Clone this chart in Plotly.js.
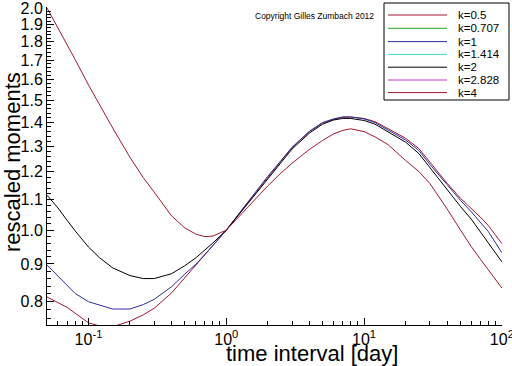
<!DOCTYPE html>
<html><head><meta charset="utf-8">
<script src="https://cdn.plot.ly/plotly-3.0.1.min.js"></script>
<style>html,body{margin:0;padding:0;background:#fff}#chart{width:512px;height:366px}</style>
</head><body><div id="chart"></div>
<script>
// time interval [day]
const xDays = [0.05,0.06,0.07,0.08,0.1,0.12,0.15,0.2,0.25,0.3,0.4,0.5,0.6,0.7,0.8,1,
  1.25,1.5,2,2.5,3,4,5,6,7,8,10,12,15,20,25,30,40,50,60,70,80,100];
// rescaled moments per k
const k05 = [0.812,0.798,0.786,0.772,0.749,0.742,0.740,0.753,0.768,0.784,0.822,0.862,0.896,0.925,0.953,1.000,
  1.055,1.101,1.181,1.241,1.293,1.359,1.397,1.413,1.422,1.423,1.417,1.403,1.372,1.332,1.290,1.236,1.158,1.105,1.071,1.041,1.014,0.959];
const k1 = [0.897,0.866,0.840,0.821,0.800,0.791,0.782,0.782,0.793,0.806,0.838,0.872,0.899,0.927,0.954,1.000,
  1.056,1.103,1.183,1.243,1.295,1.361,1.399,1.415,1.424,1.424,1.415,1.399,1.365,1.325,1.282,1.228,1.153,1.098,1.059,1.025,0.995,0.932];
const k2 = [1.115,1.072,1.031,0.998,0.949,0.918,0.889,0.868,0.860,0.860,0.873,0.895,0.917,0.940,0.961,1.000,
  1.053,1.098,1.177,1.236,1.288,1.353,1.392,1.410,1.417,1.417,1.408,1.392,1.357,1.316,1.270,1.215,1.136,1.077,1.035,0.994,0.963,0.906];
const k4 = [2.000,1.880,1.780,1.703,1.573,1.478,1.375,1.255,1.178,1.126,1.046,1.007,0.988,0.980,0.982,1.000,
  1.046,1.086,1.148,1.196,1.232,1.286,1.323,1.350,1.365,1.372,1.360,1.338,1.305,1.243,1.201,1.157,1.069,1.001,0.950,0.913,0.883,0.835];

const legendNames = ['k=0.5','k=0.707','k=1','k=1.414','k=2','k=2.828','k=4'];
const legendColors = ['#a3182f','#22a822','#2e2ea0','#33dada','#000000','#c833c8','#a3182f'];

const xTickVals = [0.1,1,10,100];
const xTickText = ['10<sup>-1</sup>','10<sup>0</sup>','10<sup>1</sup>','10<sup>2</sup>'];
const yTickVals = [0.8,0.9,1.0,1.1,1.2,1.3,1.4,1.5,1.6,1.7,1.8,1.9,2.0];
const yTickText = ['0.8','0.9','1.0','1.1','1.2','1.3','1.4','1.5','1.6','1.7','1.8','1.9','2.0'];

const xMinor = [];
[0.01,0.1,1,10].forEach(d => { for (let m = 2; m <= 9; m++) xMinor.push(+(d*m).toFixed(4)); });
const yMinor = [];
for (let v = 76; v <= 200; v += 2) { if (v % 10 !== 0) yMinor.push(v/100); }

const series = [
  {name:'k=0.5', y:k05, color:legendColors[0]},
  {name:'k=1', y:k1, color:legendColors[2]},
  {name:'k=2', y:k2, color:legendColors[4]},
  {name:'k=4', y:k4, color:legendColors[6]}
];
const traces = series.map(s => ({
  type:'scatter', mode:'lines', x:xDays, y:s.y, name:s.name,
  line:{color:s.color, width:1}, showlegend:false, hoverinfo:'skip'
}));

// plot area in pixels
const L = 47, R = 502, T = 7, B = 325, W = 512, H = 366;
const px = x => (x - L) / (R - L);
const py = y => (B - y) / (B - T);

const shapes = [{type:'rect', xref:'paper', yref:'paper', x0:px(384), x1:px(509), y0:py(100), y1:py(3),
  line:{color:'#000', width:1}, fillcolor:'#fff', layer:'above'}];
const annotations = [];
const rowY = [15,28.3,41.6,54.4,67.2,80,92.6];
legendNames.forEach((n,i) => {
  shapes.push({type:'line', xref:'paper', yref:'paper', x0:px(388), x1:px(447), y0:py(rowY[i]), y1:py(rowY[i]),
    line:{color:legendColors[i], width:1}, layer:'above'});
  annotations.push({xref:'paper', yref:'paper', x:px(456), y:py(rowY[i]), xanchor:'left', yanchor:'middle',
    text:n, showarrow:false, font:{size:11.5, color:'#000'}});
});
annotations.push({xref:'paper', yref:'paper', x:px(314), y:py(16), xanchor:'center', yanchor:'middle',
  text:'Copyright Gilles Zumbach 2012', showarrow:false, font:{size:8.5, color:'#000'}});
annotations.push({xref:'paper', yref:'paper', x:px(312), y:0, yshift:-14, xanchor:'center', yanchor:'top',
  text:'time interval [day]', showarrow:false, font:{size:22, color:'#000'}});
annotations.push({xref:'paper', yref:'paper', x:px(12), y:py(162), xanchor:'center', yanchor:'middle',
  text:'rescaled moments', textangle:-90, showarrow:false, font:{size:22, color:'#000'}});

const axisCommon = {type:'log', showgrid:false, zeroline:false, showline:true, linecolor:'#000', linewidth:1,
  ticks:'inside', ticklen:7, tickcolor:'#000', tickwidth:1, tickmode:'array', mirror:false,
  ticklabeloverflow:'allow', tickfont:{size:16, color:'#000'}};

const layout = {
  width:W, height:H, margin:{l:L, r:W-R, t:T, b:H-B, pad:0},
  paper_bgcolor:'#fff', plot_bgcolor:'#fff',
  font:{family:'Liberation Sans, Arial, sans-serif', color:'#000'},
  showlegend:false,
  xaxis:Object.assign({}, axisCommon, {range:[Math.log10(0.05), 2.001], tickvals:xTickVals, ticktext:xTickText,
    minor:{tickmode:'array', tickvals:xMinor, ticks:'inside', ticklen:4, tickcolor:'#000'}}),
  yaxis:Object.assign({}, axisCommon, {range:[Math.log10(0.744), Math.log10(2.006)], tickvals:yTickVals, ticktext:yTickText,
    minor:{tickmode:'array', tickvals:yMinor, ticks:'inside', ticklen:4, tickcolor:'#000'}}),
  shapes:shapes, annotations:annotations
};
Plotly.newPlot('chart', traces, layout, {staticPlot:true, displayModeBar:false});
</script></body></html>
